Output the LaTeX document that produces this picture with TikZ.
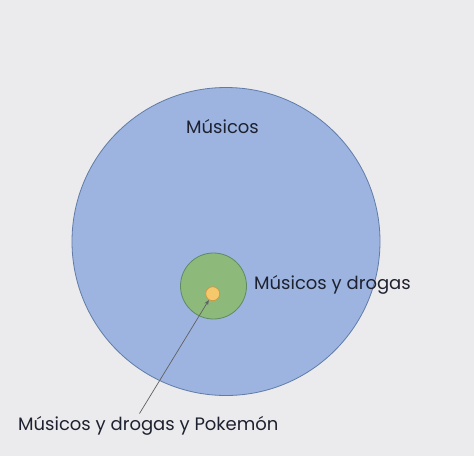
\documentclass[tikz,border=0pt]{standalone}
\usepackage{fontspec}
\setmainfont{Poppins}
\usetikzlibrary{arrows.meta}
\definecolor{bg}{HTML}{EBEAEC}
\definecolor{bluefill}{HTML}{9DB4E0}
\definecolor{blueline}{HTML}{5F7CA8}
\definecolor{greenfill}{HTML}{8DB97B}
\definecolor{greenline}{HTML}{5E8A66}
\definecolor{yellowfill}{HTML}{F6C86C}
\definecolor{yellowline}{HTML}{C99A45}
\definecolor{txt}{HTML}{1E2230}
\definecolor{arrowc}{HTML}{606060}
\tikzset{
  setcircle/.style={circle, inner sep=0pt, line width=0.8pt},
  lbl/.style={font=\fontsize{18}{20}\selectfont, text=txt, inner sep=0pt},
}
\begin{document}
\begin{tikzpicture}[x=1pt,y=-1pt]
\fill[bg] (0,0) rectangle (474,456);
\useasboundingbox (0,0) rectangle (474,456);
\node[setcircle, draw=blueline, fill=bluefill, minimum size=308pt] (musicos) at (226,241.5) {};
\node[setcircle, draw=greenline, fill=greenfill, minimum size=66pt] (drogas) at (213.5,286) {};
\node[setcircle, draw=yellowline, fill=yellowfill, minimum size=14pt] (pokemon) at (212.7,293.7) {};
\node[lbl] (lm) at (222.5,127) {Músicos};
\node[lbl, anchor=west] (ld) at (254,285) {Músicos y drogas};
\node[lbl, anchor=west] (lp) at (18,426) {Músicos y drogas y Pokemón};
\coordinate (start) at (139.5,413.5);
\draw[arrowc, line width=0.7pt, -{Stealth[length=5pt,width=4pt]}] (start) -- (pokemon);
\end{tikzpicture}
\end{document}
